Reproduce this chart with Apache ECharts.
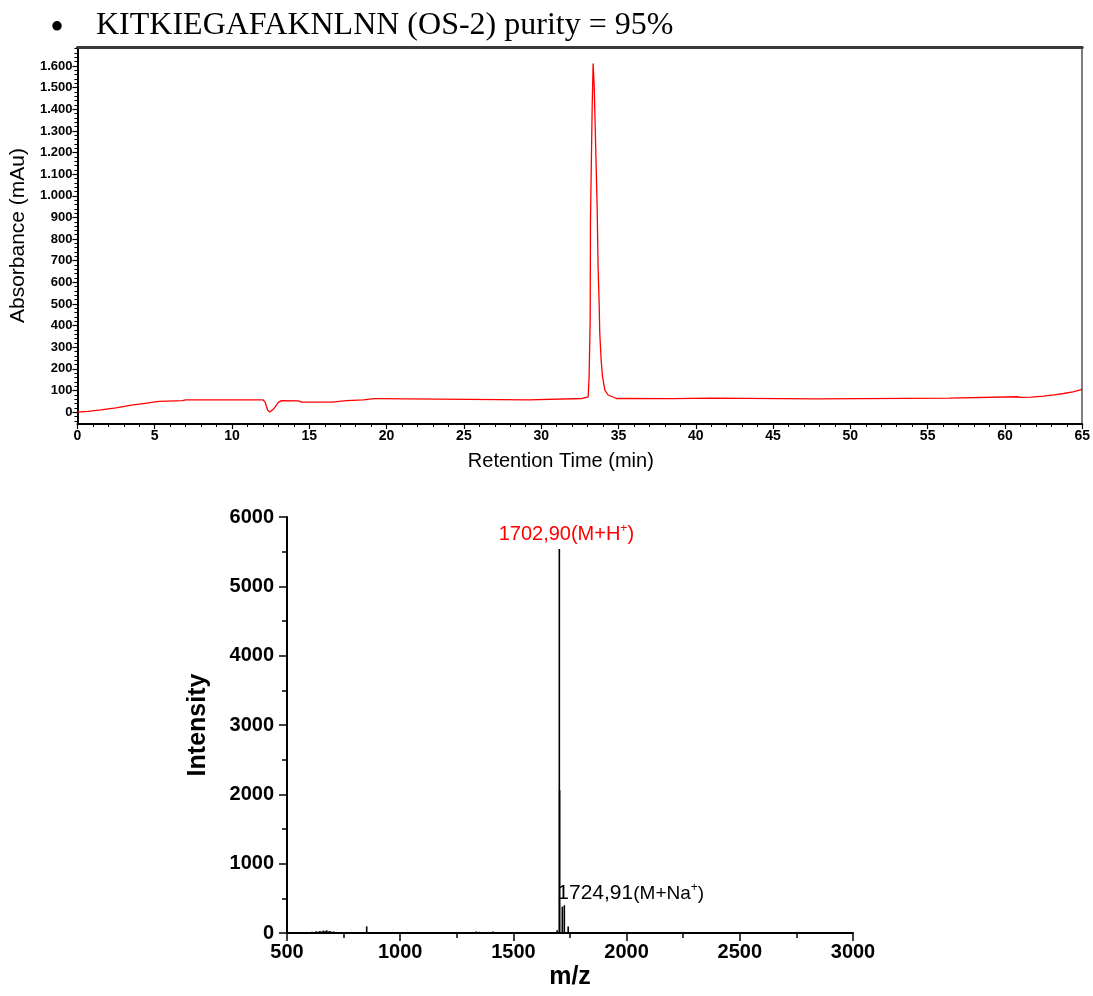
<!DOCTYPE html>
<html>
<head>
<meta charset="utf-8">
<title>KITKIEGAFAKNLNN (OS-2)</title>
<script src="https://cdn.jsdelivr.net/npm/echarts@6/dist/echarts.min.js"></script>
<style>
  html, body { margin: 0; padding: 0; background: #fff; }
  #chart { width: 1093px; height: 996px; }
</style>
</head>
<body>
<div id="chart"></div>
<script>
// HPLC trace: retention time (min) and absorbance (mAu)
const hplcTime = [
  0, 0.7, 1.5, 2.5, 3.5, 4.5, 5.0, 5.3, 6.8, 7.0, 12.0, 12.15, 12.3, 12.45, 12.7, 13.0, 13.2,
  14.3, 14.5, 16.5, 16.6, 17.4, 17.5, 18.5, 18.6, 18.9, 19.0, 19.2, 19.4, 19.5, 29.2, 29.3,
  32.65, 33.04, 33.10, 33.17, 33.19, 33.30, 33.36, 33.43, 33.51, 33.62, 33.68, 33.75, 33.79,
  33.88, 33.97, 34.12, 34.33, 34.87, 38.5, 38.6, 41.0, 41.1, 47.8, 47.9, 56.4, 56.5, 60.8,
  61.0, 61.7, 62.5, 63.2, 63.8, 64.4, 65.0
];
const hplcAbs = [
  0, 3, 10, 20, 32, 42, 47, 50, 53, 57, 57, 45, 10, 0, 15, 45, 53,
  52, 46, 46, 51, 53, 57, 57, 61, 60, 55, 62, 62, 57, 57, 61,
  63, 70, 163, 426, 890, 1413, 1612, 1506, 1275, 950, 673, 504, 365,
  240, 163, 102, 79, 63, 62, 65, 65, 61, 61, 65, 65, 70, 71,
  68, 69, 74, 80, 86, 94, 105
];
const absTicks = [0, 100, 200, 300, 400, 500, 600, 700, 800, 900, 1000, 1100, 1200, 1300, 1400, 1500, 1600];

// Mass spectrum: m/z and intensity
const msMz = [
  600, 610, 620, 628, 636, 645, 652, 660, 668, 675, 682, 690, 698, 706, 715, 725, 740, 760,
  790, 820, 852, 870, 900, 950, 1000, 1050, 1100, 1150, 1200, 1250, 1300, 1320, 1335, 1350,
  1370, 1390, 1410, 1430, 1450, 1480, 1520, 1580, 1640, 1680, 1693, 1702.9, 1704.2, 1716,
  1724.91, 1742, 1760, 1800, 1850, 1900, 2000, 2100, 2200, 2300, 2400, 2500, 2600, 2700,
  2800, 2900, 2980
];
const msIntensity = [
  12, 18, 15, 25, 20, 30, 22, 35, 28, 40, 25, 30, 18, 22, 15, 12, 10, 8,
  6, 8, 95, 8, 6, 5, 6, 5, 6, 5, 6, 8, 10, 15, 22, 18,
  12, 15, 20, 14, 12, 8, 6, 5, 8, 12, 40, 5540, 2060, 380,
  400, 95, 10, 6, 5, 4, 5, 4, 5, 4, 5, 6, 5, 6,
  5, 6, 5
];
// Peak assignments written above their sticks
const peakMz = [1702.9, 1724.91];
const peakText = ['{r|1702,90(M+H}{rs|+}{r|)}', '{k|1724,91}{kp|(M+Na}{ks|+}{kp|)}'];

const FONT = "'Liberation Sans', Arial, sans-serif";
const SERIF = "'Liberation Serif', 'Times New Roman', serif";

const hplcData = hplcTime.map((t, i) => [t, hplcAbs[i]]);

const msData = msMz.map((mz, i) => {
  const item = { value: [mz, msIntensity[i]] };
  const k = peakMz.indexOf(mz);
  if (k === 0) {
    item.label = {
      show: true, position: 'top', distance: 2, offset: [7, 0],
      formatter: peakText[0]
    };
  } else if (k === 1) {
    item.label = {
      show: true, position: 'top', distance: 0, align: 'left', offset: [-7, 0],
      formatter: peakText[1]
    };
  }
  return item;
});

const chart = echarts.init(document.getElementById('chart'), null, { renderer: 'canvas' });

const sup = { fontFamily: FONT, fontSize: 12, verticalAlign: 'top', lineHeight: 24 };

chart.setOption({
  animation: false,
  backgroundColor: '#ffffff',
  graphic: [
    {
      type: 'text', left: 50, top: 9,
      style: { text: '\u2022', font: '40px ' + SERIF, fill: '#000' }
    },
    {
      type: 'text', left: 96, top: 10,
      style: { text: 'KITKIEGAFAKNLNN (OS-2) purity = 95%', font: '32px ' + SERIF, fill: '#000' }
    }
  ],
  grid: [
    { left: 77, right: 8, top: 47, bottom: 572 },
    { left: 287, right: 240, top: 517, bottom: 63 }
  ],
  xAxis: [
    {
      gridIndex: 0, type: 'value', min: 0, max: 65, interval: 5,
      axisLine: { show: true, onZero: false, lineStyle: { color: '#000', width: 2 } },
      axisTick: { show: true, length: 5, lineStyle: { color: '#000', width: 1.2 } },
      minorTick: { show: true, splitNumber: 5, length: 3, lineStyle: { color: '#000', width: 1 } },
      splitLine: { show: false },
      axisLabel: { color: '#000', fontFamily: FONT, fontWeight: 'bold', fontSize: 14, margin: 5 },
      name: 'Retention Time (min)', nameLocation: 'middle', nameGap: 27,
      nameTextStyle: { color: '#000', fontFamily: FONT, fontSize: 20, padding: [0, 38, 0, 0] }
    },
    {
      gridIndex: 0, type: 'value', min: 0, max: 65, position: 'top',
      axisLine: { show: true, onZero: false, lineStyle: { color: '#3a3a3a', width: 3 } },
      axisTick: { show: false }, axisLabel: { show: false }, splitLine: { show: false }
    },
    {
      gridIndex: 1, type: 'value', min: 500, max: 3000, interval: 500,
      axisLine: { show: true, onZero: false, lineStyle: { color: '#000', width: 2 } },
      axisTick: { show: true, length: 8, lineStyle: { color: '#000', width: 1.5 } },
      minorTick: { show: true, splitNumber: 2, length: 5, lineStyle: { color: '#000', width: 1.5 } },
      splitLine: { show: false },
      axisLabel: { color: '#000', fontFamily: FONT, fontWeight: 'bold', fontSize: 20, margin: 9, formatter: v => String(v) },
      name: 'm/z', nameLocation: 'middle', nameGap: 32,
      nameTextStyle: { color: '#000', fontFamily: FONT, fontWeight: 'bold', fontSize: 25 }
    }
  ],
  yAxis: [
    {
      gridIndex: 0, type: 'value', min: -55, max: 1688,
      axisLine: { show: true, onZero: false, lineStyle: { color: '#000', width: 2 } },
      axisTick: { show: true, length: 5, customValues: absTicks, lineStyle: { color: '#000', width: 1.2 } },
      splitLine: { show: false },
      axisLabel: {
        customValues: absTicks,
        color: '#000', fontFamily: FONT, fontWeight: 'bold', fontSize: 13, margin: 5,
        formatter: v => v >= 1000 ? Math.floor(v / 1000) + '.' + String(v % 1000).padStart(3, '0') : String(v)
      },
      name: 'Absorbance (mAu)', nameLocation: 'middle', nameGap: 48, nameRotate: 90,
      nameTextStyle: { color: '#000', fontFamily: FONT, fontSize: 21 }
    },
    {
      gridIndex: 0, type: 'value', min: -55, max: 1688, position: 'left',
      axisLine: { show: false },
      axisTick: {
        show: true, length: 3, lineStyle: { color: '#000', width: 1 },
        customValues: Array.from({ length: 87 }, (_, i) => -40 + i * 20)
      },
      axisLabel: { show: false }, splitLine: { show: false }
    },
    {
      gridIndex: 0, type: 'value', min: -55, max: 1688, position: 'right',
      axisLine: { show: true, onZero: false, lineStyle: { color: '#555', width: 1.5 } },
      axisTick: { show: false }, axisLabel: { show: false }, splitLine: { show: false }
    },
    {
      gridIndex: 1, type: 'value', min: 0, max: 6000, interval: 1000,
      axisLine: { show: true, onZero: false, lineStyle: { color: '#000', width: 2 } },
      axisTick: { show: true, length: 8, lineStyle: { color: '#000', width: 1.5 } },
      minorTick: { show: true, splitNumber: 2, length: 5, lineStyle: { color: '#000', width: 1.5 } },
      splitLine: { show: false },
      axisLabel: { color: '#000', fontFamily: FONT, fontWeight: 'bold', fontSize: 20, margin: 13, formatter: v => String(v) },
      name: 'Intensity', nameLocation: 'middle', nameGap: 76, nameRotate: 90,
      nameTextStyle: { color: '#000', fontFamily: FONT, fontWeight: 'bold', fontSize: 25 }
    }
  ],
  series: [
    {
      type: 'line', xAxisIndex: 0, yAxisIndex: 0, data: hplcData,
      showSymbol: false, symbol: 'none',
      lineStyle: { color: '#ff0000', width: 1.3 }
    },
    {
      type: 'bar', xAxisIndex: 2, yAxisIndex: 3, data: msData,
      barWidth: 1.6, itemStyle: { color: '#000' },
      label: {
        rich: {
          r: { color: '#ff0000', fontFamily: FONT, fontSize: 20, lineHeight: 24 },
          rs: Object.assign({ color: '#ff0000' }, sup),
          k: { color: '#000', fontFamily: FONT, fontSize: 21, lineHeight: 24 },
          kp: { color: '#000', fontFamily: FONT, fontSize: 19, lineHeight: 24 },
          ks: Object.assign({ color: '#000' }, sup)
        }
      }
    }
  ]
});
</script>
</body>
</html>
